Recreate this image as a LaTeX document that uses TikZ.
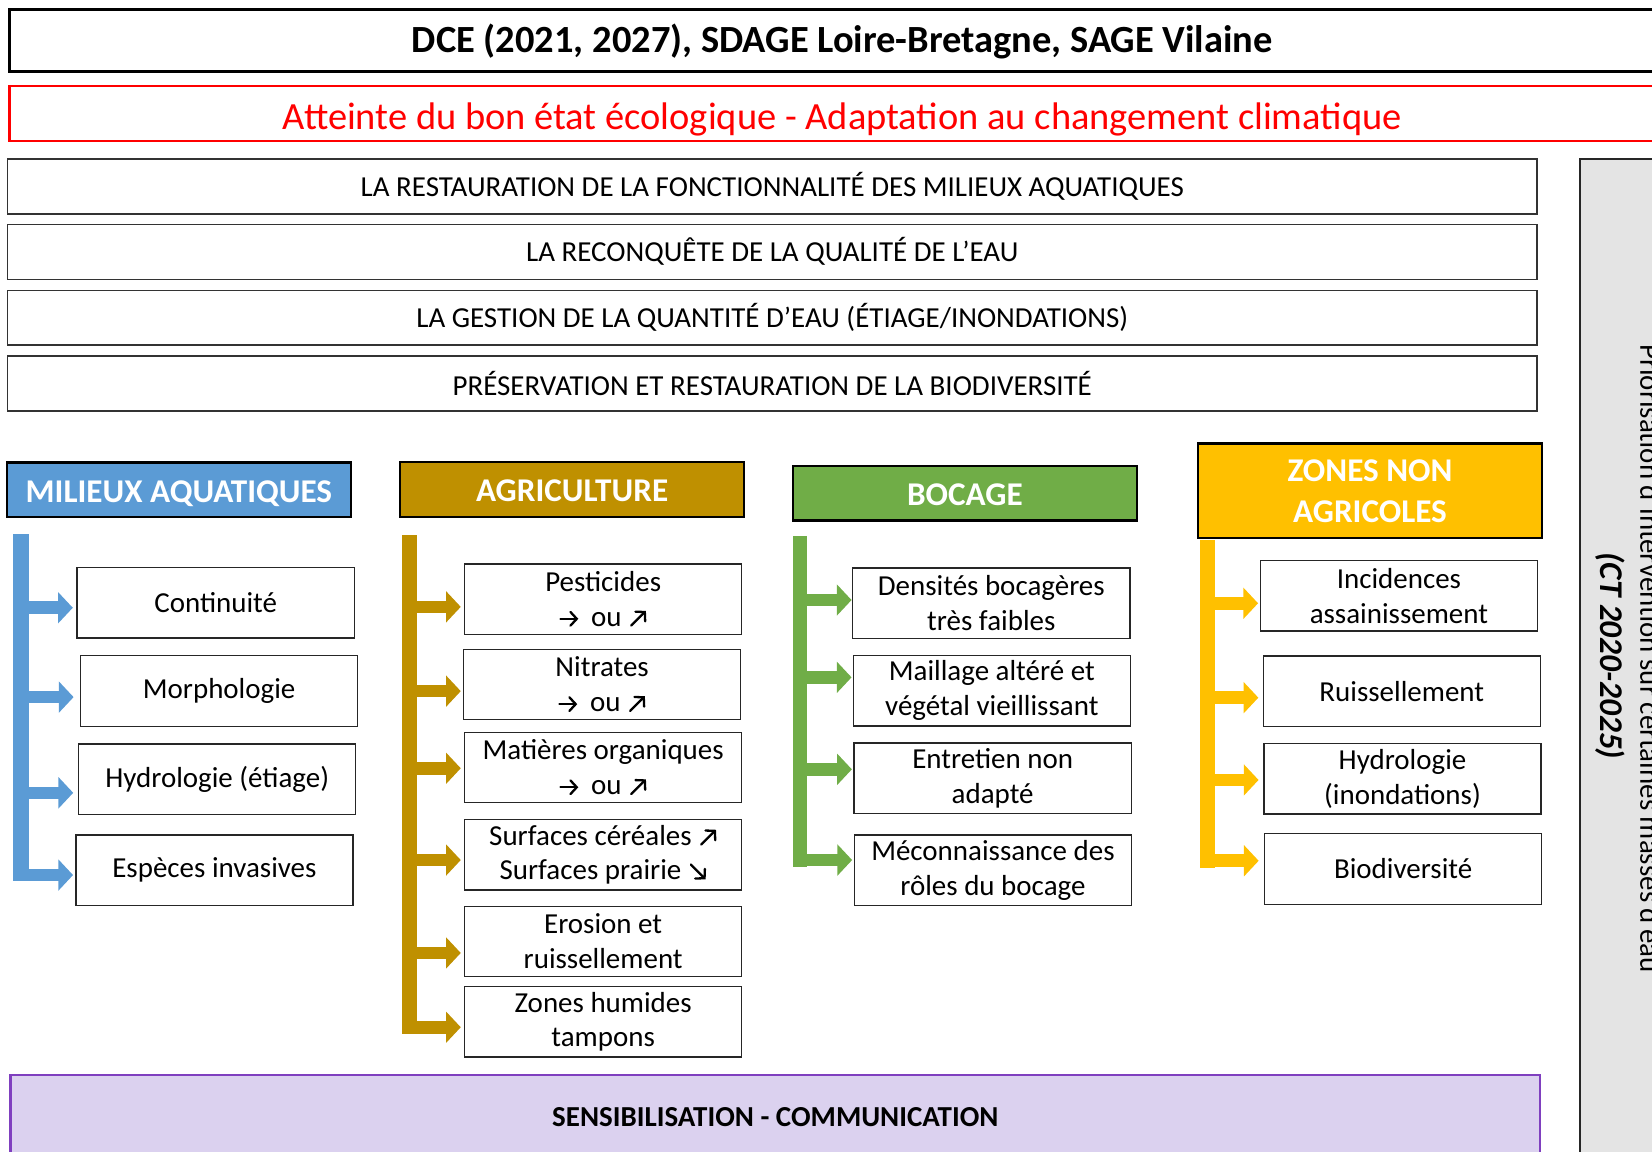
\documentclass[tikz,border=0pt]{standalone}
\usepackage{fontspec}
\setmainfont{Carlito}
\usetikzlibrary{arrows.meta,calc}
\definecolor{cblue}{HTML}{5B9BD5}
\definecolor{cgold}{HTML}{BF9000}
\definecolor{cgreen}{HTML}{70AD47}
\definecolor{camber}{HTML}{FFC000}
\definecolor{cpurple}{HTML}{7F3FBF}
\definecolor{cpurplefill}{HTML}{DBD1EF}
\definecolor{cgrayfill}{HTML}{E4E4E4}
\tikzset{glyph/.style={x=1pt,y=1pt,baseline=0pt,line width=2.2pt,draw=black,line cap=round,
  -{Straight Barb[length=6pt,width=13pt,line cap=round]}}}
\newcommand\arE{\tikz[glyph]\draw (0,7) -- (17,7);}
\newcommand\arNE{\tikz[glyph]\draw (0,0.5) -- (14,14.5);}
\newcommand\arSE{\tikz[glyph]\draw (0,14.5) -- (14,0.5);}
\newcommand\upou{\arE\hspace{11pt}ou\hspace{8pt}\arNE}
\newcommand\mybranch[5]{\draw[branch=#1] ($(#2 |- #3.west)+(0,#4)$) -- ($(#3.west)+(-#5,#4)$);}
\begin{document}
\begin{tikzpicture}[x=1pt,y=-1pt,
  txt/.style={font=\fontsize{27.5}{33}\selectfont},
  item/.style={txt, draw=black!85, line width=1.3pt, fill=white, align=center,
    minimum width=263pt, minimum height=66.8pt, inner sep=0pt},
  rowbox/.style={txt, draw=black!80, line width=1.3pt, fill=white,
    minimum width=1452pt, minimum height=52pt, inner sep=0pt},
  hdr/.style={draw=black, line width=2pt, text=white, align=center,
    font=\bfseries\fontsize{31.5}{39}\selectfont, minimum width=326pt, inner sep=0pt},
  hdr1/.style={hdr, minimum height=52pt, text height=23.2pt, text depth=0pt},
  trunk/.style={draw=#1, line cap=butt},
  branch/.style={draw=#1, line width=12pt, -{Triangle[length=14pt,width=29pt]}}
]
\useasboundingbox (0,0) rectangle (1568,1093);
\clip (0,0) rectangle (1568,1093);

% top banners
\node[draw=black, line width=2.2pt, minimum width=1581pt, minimum height=59pt, inner sep=0pt,
  text height=27pt, text depth=4pt,
  font=\bfseries\fontsize{36.5}{40}\selectfont] (dce) at (799.5,38.5)
  {DCE (2021, 2027), SDAGE Loire-Bretagne, SAGE Vilaine};
\node[draw=red, line width=2pt, text=red, minimum width=1581pt, minimum height=52pt, inner sep=0pt,
  text height=30pt, text depth=0pt,
  font=\fontsize{36.5}{40}\selectfont] (obj) at (799.5,108)
  {Atteinte du bon état écologique - Adaptation au changement climatique};

% right gray panel
\node[draw=black!85, line width=2pt, fill=cgrayfill, minimum width=200pt, minimum height=1049pt] (prio) at (1599.6,675.5) {};
\node[rotate=-90, anchor=base, font=\fontsize{27.5}{33}\selectfont, inner sep=0pt] (priotxt1) at (1557,625)
  {Priorisation d’intervention sur certaines masses d’eau};
\node[rotate=-90, anchor=base, font=\bfseries\itshape\fontsize{31.5}{36}\selectfont, inner sep=0pt] (priotxt2) at (1519,622.5)
  {(CT 2020-2025)};

% rows
\node[rowbox] (r1) at (733,177) {LA RESTAURATION DE LA FONCTIONNALITÉ DES MILIEUX AQUATIQUES};
\node[rowbox] (r2) at (733,239) {LA RECONQUÊTE DE LA QUALITÉ DE L’EAU};
\node[rowbox] (r3) at (733,301.5) {LA GESTION DE LA QUANTITÉ D’EAU (ÉTIAGE/INONDATIONS)};
\node[rowbox] (r4) at (733,364) {PRÉSERVATION ET RESTAURATION DE LA BIODIVERSITÉ};

% headers
\node[hdr1, fill=cblue] (ma) at (169.75,465) {MILIEUX AQUATIQUES};
\node[hdr1, fill=cgold] (ag) at (543,464.3) {AGRICULTURE};
\node[hdr1, fill=cgreen] (bo) at (915.85,468) {BOCAGE};
\node[hdr, fill=camber, minimum height=90pt] (zna) at (1300.35,465.9) {ZONES NON\\AGRICOLES};

% column 1
\node[item] (c1) at (204.75,572.25) {Continuité};
\node[item] (c2) at (208,655.85) {Morphologie};
\node[item] (c3) at (206.15,739.5) {Hydrologie (étiage)};
\node[item] (c4) at (203.5,826.05) {Espèces invasives};
% column 2
\node[item] (a1) at (572.5,568.6) {Pesticides\\\upou};
\node[item] (a2) at (571.5,649.65) {Nitrates\\\upou};
\node[item] (a3) at (572.5,728.5) {Matières organiques\\\upou};
\node[item] (a4) at (572.5,811.25) {Surfaces céréales\hspace{8pt}\arNE\\Surfaces prairie\hspace{8pt}\arSE};
\node[item] (a5) at (572.5,893.55) {Erosion et\\ruissellement};
\node[item] (a6) at (572.5,969.7) {Zones humides\\tampons};
% column 3
\node[item] (b1) at (940.9,572.35) {Densités bocagères\\très faibles};
\node[item] (b2) at (941.4,655.5) {Maillage altéré et\\végétal vieillissant};
\node[item] (b3) at (942.2,738.5) {Entretien non\\adapté};
\node[item] (b4) at (942.45,825.9) {Méconnaissance des\\rôles du bocage};
% column 4
\node[item] (z1) at (1327.75,565.5) {Incidences\\assainissement};
\node[item] (z2) at (1330.5,656) {Ruissellement};
\node[item] (z3) at (1331.2,739.25) {Hydrologie\\(inondations)};
\node[item] (z4) at (1331.8,824.8) {Biodiversité};

% trunks
\coordinate (ma-t) at (20,507);     \coordinate (ma-b) at (20,836.5);
\coordinate (ag-t) at (388.5,507.8); \coordinate (ag-b) at (388.5,981);
\coordinate (bo-t) at (759.5,508.7); \coordinate (bo-b) at (759.5,822.8);
\coordinate (zn-t) at (1146,512.5);  \coordinate (zn-b) at (1146,823.5);
\draw[trunk=cblue, line width=14.5pt] (ma-t) -- (ma-b);
\draw[trunk=cgold, line width=14pt] (ag-t) -- (ag-b);
\draw[trunk=cgreen, line width=13pt] (bo-t) -- (bo-b);
\draw[trunk=camber, line width=14pt] (zn-t) -- (zn-b);

% branches
\mybranch{cblue}{ma-t}{c1}{4.6}{3.5}
\mybranch{cblue}{ma-t}{c2}{5.8}{6}
\mybranch{cblue}{ma-t}{c3}{13}{4.5}
\mybranch{cblue}{ma-t}{c4}{4.5}{2}
\mybranch{cgold}{ag-t}{a1}{7.4}{3}
\mybranch{cgold}{ag-t}{a2}{6.35}{2}
\mybranch{cgold}{ag-t}{a3}{0.7}{3}
\mybranch{cgold}{ag-t}{a4}{5.05}{3}
\mybranch{cgold}{ag-t}{a5}{10.95}{3}
\mybranch{cgold}{ag-t}{a6}{5.3}{3}
\mybranch{cgreen}{bo-t}{b1}{-2.85}{0.5}
\mybranch{cgreen}{bo-t}{b2}{-12.6}{1}
\mybranch{cgreen}{bo-t}{b3}{-8.3}{1.5}
\mybranch{cgreen}{bo-t}{b4}{-9.6}{1.5}
\mybranch{camber}{zn-t}{z1}{7.1}{1.5}
\mybranch{camber}{zn-t}{z2}{6.2}{4}
\mybranch{camber}{zn-t}{z3}{1.05}{4.5}
\mybranch{camber}{zn-t}{z4}{-7.8}{5}

% bottom
\node[draw=cpurple, line width=2pt, fill=cpurplefill, minimum width=1451.7pt, minimum height=80pt, inner sep=0pt,
  font=\bfseries\fontsize{27.5}{33}\selectfont] (sens) at (735.85,1060) {SENSIBILISATION - COMMUNICATION};
\end{tikzpicture}
\end{document}
